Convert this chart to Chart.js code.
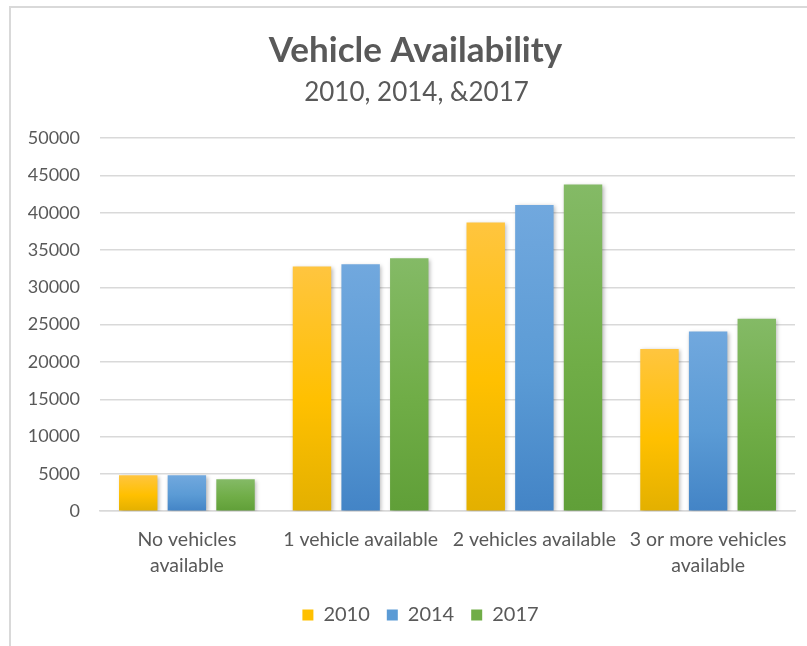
<!DOCTYPE html>
<html>
<head>
<meta charset="utf-8">
<script src="https://cdn.jsdelivr.net/npm/chart.js@4"></script>
<style>
  html, body { margin: 0; padding: 0; background: #ffffff; }
  #wrap { position: absolute; left: 0; top: 0; width: 807px; height: 646px; }
</style>
</head>
<body>
<div id="wrap"><canvas id="c" width="807" height="646"></canvas></div>
<script>
const categories = [["No vehicles", "available"], "1 vehicle available", "2 vehicles available", ["3 or more vehicles", "available"]];
const seriesNames = ["2010", "2014", "2017"];
const values2010 = [4800, 32800, 38700, 21750];
const values2014 = [4800, 33100, 41050, 24100];
const values2017 = [4260, 33900, 43800, 25800];
const yTicks = [0, 5000, 10000, 15000, 20000, 25000, 30000, 35000, 40000, 45000, 50000];

const palettes = [
  { top: '#FFC53F', mid: '#FFC000', bottom: '#E3B000', solid: '#FFC000' },
  { top: '#71A8DE', mid: '#5B9BD5', bottom: '#4384C6', solid: '#5B9BD5' },
  { top: '#84BA66', mid: '#70AD47', bottom: '#609F38', solid: '#70AD47' }
];

function barGradient(p) {
  return function (ctx) {
    const chart = ctx.chart;
    const y = chart.scales && chart.scales.y;
    if (!chart.chartArea || !y || ctx.raw === undefined) return p.solid;
    const top = y.getPixelForValue(ctx.raw);
    const bottom = y.getPixelForValue(0);
    if (!isFinite(top) || !isFinite(bottom) || bottom - top < 1) return p.solid;
    const g = chart.ctx.createLinearGradient(0, top, 0, bottom);
    g.addColorStop(0, p.top);
    g.addColorStop(0.55, p.mid);
    g.addColorStop(1, p.bottom);
    return g;
  };
}

const framePlugin = {
  id: 'frame',
  beforeDraw(chart) {
    const c = chart.ctx;
    c.save();
    c.fillStyle = '#ffffff';
    c.fillRect(0, 0, chart.width, chart.height);
    c.strokeStyle = '#D9D9D9';
    c.lineWidth = 2;
    c.beginPath();
    c.moveTo(10, chart.height);
    c.lineTo(10, 7);
    c.lineTo(chart.width, 7);
    c.stroke();
    c.restore();
  }
};

// Shift the centred title, subtitle and legend blocks to where they sit in the reference
const shiftPlugin = {
  id: 'shiftBlocks',
  afterLayout(chart) {
    const scaleBoxes = Object.values(chart.scales);
    chart.boxes.forEach(box => {
      if (scaleBoxes.includes(box)) return;
      let dx = 0;
      if (box === chart.legend) dx = 18;
      else if (box === chart.titleBlock) dx = 13;
      else dx = 14; // subtitle
      box.left += dx;
      box.right += dx;
    });
    if (chart.legend && chart.legend.adjustHitBoxes) chart.legend.adjustHitBoxes();
  }
};

const shadowPlugin = {
  id: 'barShadow',
  beforeDatasetsDraw(chart) {
    const c = chart.ctx;
    c.save();
    c.shadowColor = 'rgba(0,0,0,0.28)';
    c.shadowBlur = 4;
    c.shadowOffsetX = 1.5;
    c.shadowOffsetY = 1.5;
  },
  afterDatasetsDraw(chart) {
    chart.ctx.restore();
  }
};

const dataSeries = [values2010, values2014, values2017];

new Chart(document.getElementById('c'), {
  type: 'bar',
  data: {
    labels: categories,
    datasets: seriesNames.map((name, i) => ({
      label: name,
      data: dataSeries[i],
      backgroundColor: barGradient(palettes[i]),
      borderWidth: 0,
      categoryPercentage: 0.84,
      barPercentage: 0.79
    }))
  },
  options: {
    responsive: false,
    animation: false,
    devicePixelRatio: 1,
    layout: { padding: { left: 10, right: 12, top: 0, bottom: 11 } },
    plugins: {
      title: {
        display: true,
        text: 'Vehicle Availability',
        color: '#595959',
        font: { family: 'Lato', size: 35, weight: 'bold', lineHeight: 1.2 },
        padding: { top: 30, bottom: 1 }
      },
      subtitle: {
        display: true,
        text: '2010, 2014, &2017',
        color: '#595959',
        font: { family: 'Lato', size: 26, weight: 'normal', lineHeight: 1.2 },
        padding: { top: 4, bottom: 30 }
      },
      legend: {
        display: true,
        position: 'bottom',
        labels: {
          color: '#595959',
          font: { family: 'Lato', size: 20 },
          boxWidth: 11,
          boxHeight: 11,
          padding: 17,
          generateLabels(chart) {
            return chart.data.datasets.map((ds, i) => ({
              text: ds.label,
              fillStyle: palettes[i].solid,
              strokeStyle: palettes[i].solid,
              lineWidth: 0,
              fontColor: '#595959',
              datasetIndex: i,
              hidden: false
            }));
          }
        }
      },
      tooltip: { enabled: false }
    },
    scales: {
      x: {
        grid: { display: false, drawTicks: false },
        border: { display: true, color: '#D9D9D9', width: 1.5 },
        afterFit(scale) { scale.height = scale.height - 7; },
        ticks: {
          color: '#595959',
          font: { family: 'Lato', size: 19.5, lineHeight: 1.33 },
          padding: 16,
          autoSkip: false,
          maxRotation: 0,
          minRotation: 0
        }
      },
      y: {
        min: 0,
        max: 50000,
        afterBuildTicks(scale) { scale.ticks = yTicks.map(v => ({ value: v })); },
        afterFit(scale) { scale.width = 90; },
        grid: { color: '#D9D9D9', lineWidth: 1.5, drawTicks: false },
        border: { display: false },
        ticks: {
          color: '#595959',
          font: { family: 'Lato', size: 18 },
          padding: 20,
          callback: (v) => String(v)
        }
      }
    }
  },
  plugins: [framePlugin, shiftPlugin, shadowPlugin]
});
</script>
</body>
</html>
